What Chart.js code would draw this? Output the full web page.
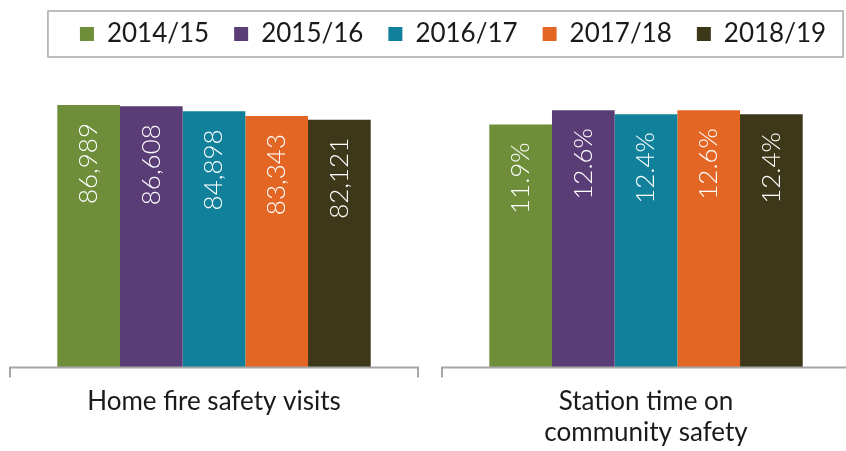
<!DOCTYPE html>
<html lang="en">
<head>
    <meta charset="UTF-8">
    <title>Fire safety activity</title>
    <script src="https://cdn.jsdelivr.net/npm/chart.js@4"></script>
    <style>
        html, body {
            margin: 0;
            padding: 0;
            background: #fff;
            overflow: hidden;
            width: 846px;
            height: 451px;
        }
        /* the right panel runs a little past the edge in the original, so the canvas is wider and shifted */
        #wrap {
            width: 864px;
            height: 451px;
            margin-left: -2px;
        }
    </style>
</head>
<body>
    <div id="wrap"><canvas id="safetyChart" width="864" height="451"></canvas></div>

    <script>
        const years = ['2014/15', '2015/16', '2016/17', '2017/18', '2018/19'];
        const categories = ['Home fire safety visits', ['Station time on', 'community safety']];
        const homeVisits = [86989, 86608, 84898, 83343, 82121];
        const stationTime = [11.9, 12.6, 12.4, 12.6, 12.4];   // percent
        const colors = ['#6e8e3a', '#5a3c77', '#11809a', '#e36624', '#3e381a'];

        const datasets = [];
        years.forEach((yr, i) => {
            datasets.push({ label: yr, data: [homeVisits[i], null], yAxisID: 'y', backgroundColor: colors[i] });
        });
        years.forEach((yr, i) => {
            datasets.push({ label: yr, data: [null, stationTime[i]], yAxisID: 'y1', backgroundColor: colors[i] });
        });

        // value labels, rotated, inside the top of each bar
        const barLabels = {
            id: 'barLabels',
            afterDatasetsDraw(chart) {
                const ctx = chart.ctx;
                ctx.save();
                ctx.font = '300 26px Lato';
                ctx.fillStyle = '#ffffff';
                ctx.textAlign = 'right';
                ctx.textBaseline = 'middle';
                chart.data.datasets.forEach((ds, di) => {
                    chart.getDatasetMeta(di).data.forEach((bar, idx) => {
                        const v = ds.data[idx];
                        if (v === null) return;
                        const txt = ds.yAxisID === 'y' ? v.toLocaleString('en-US') : v.toFixed(1) + '%';
                        ctx.save();
                        ctx.translate(bar.x, bar.y + 18);
                        ctx.rotate(-Math.PI / 2);
                        ctx.fillText(txt, 0, 0);
                        ctx.restore();
                    });
                });
                ctx.restore();
            }
        };

        // one axis segment per panel, plus the border round the legend
        const panelFrame = {
            id: 'panelFrame',
            afterLayout(chart) {
                // legend sits a little right of the centre in the original
                chart.legend.left += 23;
                chart.legend.right += 23;
            },
            afterDraw(chart) {
                const ctx = chart.ctx;
                const x = chart.scales.x;
                const base = chart.scales.y.getPixelForValue(0);
                const half = 204;
                ctx.save();
                ctx.strokeStyle = '#a6a6a6';
                ctx.lineWidth = 2;
                categories.forEach((c, i) => {
                    const cx = x.getPixelForValue(i);
                    ctx.beginPath();
                    ctx.moveTo(cx - half, base + 10);
                    ctx.lineTo(cx - half, base);
                    ctx.lineTo(cx + half, base);
                    ctx.lineTo(cx + half, base + 10);
                    ctx.stroke();
                });
                const boxes = chart.legend.legendHitBoxes;
                if (boxes && boxes.length) {
                    const first = boxes[0];
                    const last = boxes[boxes.length - 1];
                    const midY = first.top + first.height / 2;
                    const bx = first.left - 32;
                    ctx.strokeStyle = '#a8a8a8';
                    ctx.lineWidth = 1.5;
                    ctx.strokeRect(bx, midY - 23, last.left + last.width + 17 - bx, 46);
                }
                ctx.restore();
            }
        };

        new Chart(document.getElementById('safetyChart'), {
            type: 'bar',
            data: { labels: categories, datasets: datasets },
            options: {
                responsive: false,
                animation: false,
                skipNull: true,
                categoryPercentage: 0.7255,
                barPercentage: 1,
                layout: { padding: { left: 0, right: 0, top: -4, bottom: -15 } },
                plugins: {
                    tooltip: { enabled: false },
                    legend: {
                        position: 'top',
                        labels: {
                            filter: item => item.datasetIndex < years.length,
                            boxWidth: 14,
                            boxHeight: 14,
                            padding: 25,
                            color: '#1a1a1a',
                            font: { family: 'Lato', size: 26 }
                        }
                    }
                },
                scales: {
                    x: {
                        grid: { display: false, drawTicks: false },
                        border: { display: false },
                        ticks: {
                            padding: 18,
                            color: '#1a1a1a',
                            font: { family: 'Lato', size: 26, lineHeight: 1.2 }
                        }
                    },
                    y: { display: false, min: 0, max: 102900 },
                    y1: { display: false, min: 0, max: 15.2 }
                }
            },
            plugins: [barLabels, panelFrame]
        });
    </script>
</body>
</html>
